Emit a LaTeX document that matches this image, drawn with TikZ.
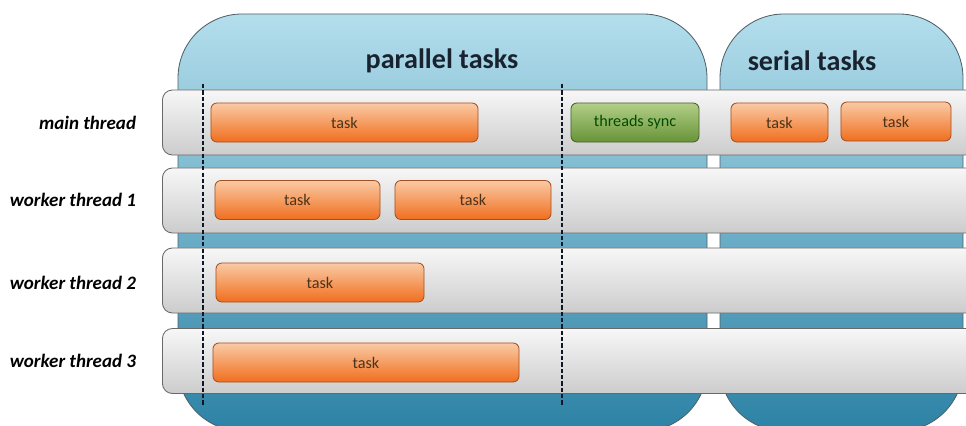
\documentclass[tikz,border=0pt]{standalone}
\usepackage{fontspec}
\setmainfont{Carlito}
\definecolor{panelTop}{RGB}{180,222,236}
\definecolor{panelBottom}{RGB}{44,130,165}
\definecolor{panelLine}{RGB}{80,96,104}
\definecolor{rowTop}{RGB}{247,247,247}
\definecolor{rowBottom}{RGB}{204,204,204}
\definecolor{rowLine}{RGB}{105,105,105}
\definecolor{taskTop}{RGB}{250,202,165}
\definecolor{taskBottom}{RGB}{240,110,30}
\definecolor{taskLine}{RGB}{165,80,35}
\definecolor{syncTop}{RGB}{178,206,135}
\definecolor{syncBottom}{RGB}{104,148,56}
\definecolor{syncLine}{RGB}{72,98,44}
\definecolor{markLine}{RGB}{15,22,40}
\tikzset{
  panel/.style={draw=panelLine, line width=0.6pt, rounded corners=1.6cm,
    top color=panelTop, bottom color=panelBottom},
  thread/.style={draw=rowLine, line width=0.6pt, rounded corners=0.25cm,
    top color=rowTop, bottom color=rowBottom, anchor=west,
    minimum width=20.7cm, minimum height=1.625cm},
  task/.style={draw=taskLine, line width=0.6pt, rounded corners=0.15cm,
    top color=taskTop, bottom color=taskBottom, minimum height=0.975cm,
    text=black!60!brown, font=\fontsize{11.5}{13}\selectfont},
  synctask/.style={task, draw=syncLine, top color=syncTop, bottom color=syncBottom,
    text=black!70!green},
  threadname/.style={anchor=east, font=\fontsize{13.5}{16}\selectfont\bfseries\itshape},
  paneltitle/.style={text={rgb,255:red,25;green,35;blue,48}, font=\fontsize{20}{24}\selectfont\bfseries},
  marker/.style={draw=markLine, line width=1.5pt, dash pattern=on 3pt off 1.5pt}
}
\begin{document}
\begin{tikzpicture}[x=0.025cm, y=-0.025cm]
        \path[use as bounding box, clip] (0,0) rectangle (966,426);
        \fill[white] (0,0) rectangle (966,426);
        % Draw panels
        \draw[panel] (178,431) rectangle (707,14);
        \draw[panel] (720,431) rectangle (963,14);
        \node[paneltitle] (parTitle) at (442,61) {parallel tasks};
        \node[paneltitle] (serTitle) at (812,61) {serial tasks};
        % Draw thread rows
        \node[thread] (mainRow) at (162,122.5) {};
        \node[thread] (workerRowA) at (162,200.5) {};
        \node[thread] (workerRowB) at (162,280.5) {};
        \node[thread] (workerRowC) at (162,361) {};
        % Draw thread names
        \node[threadname] (mainName) at (141,123) {main thread};
        \node[threadname] (workerNameA) at (141,200) {worker thread 1};
        \node[threadname] (workerNameB) at (141,283) {worker thread 2};
        \node[threadname] (workerNameC) at (141,361) {worker thread 3};
        % Draw vertical lines
        \coordinate (startTop) at (203,84);
        \coordinate (startBottom) at (203,405);
        \coordinate (syncTop) at (562,84);
        \coordinate (syncBottom) at (562,405);
        \draw[marker] (startTop) -- (startBottom);
        \draw[marker] (syncTop) -- (syncBottom);
        % Draw tasks
        \node[task, minimum width=6.675cm] (mainTask) at (344.5,122.5) {task};
        \node[synctask, minimum width=3.2cm] (sync) at (635,122.5) {threads sync};
        \node[task, minimum width=2.425cm] (serialTaskA) at (779.5,122.5) {task};
        \node[task, minimum width=2.75cm] (serialTaskB) at (896,121.5) {task};
        \node[task, minimum width=4.125cm] (workerTaskA) at (297.5,200) {task};
        \node[task, minimum width=3.9cm] (workerTaskB) at (473,200) {task};
        \node[task, minimum width=5.2cm] (workerTaskC) at (320,282.5) {task};
        \node[task, minimum width=7.65cm] (workerTaskD) at (366,362.5) {task};
    \end{tikzpicture}
\end{document}
